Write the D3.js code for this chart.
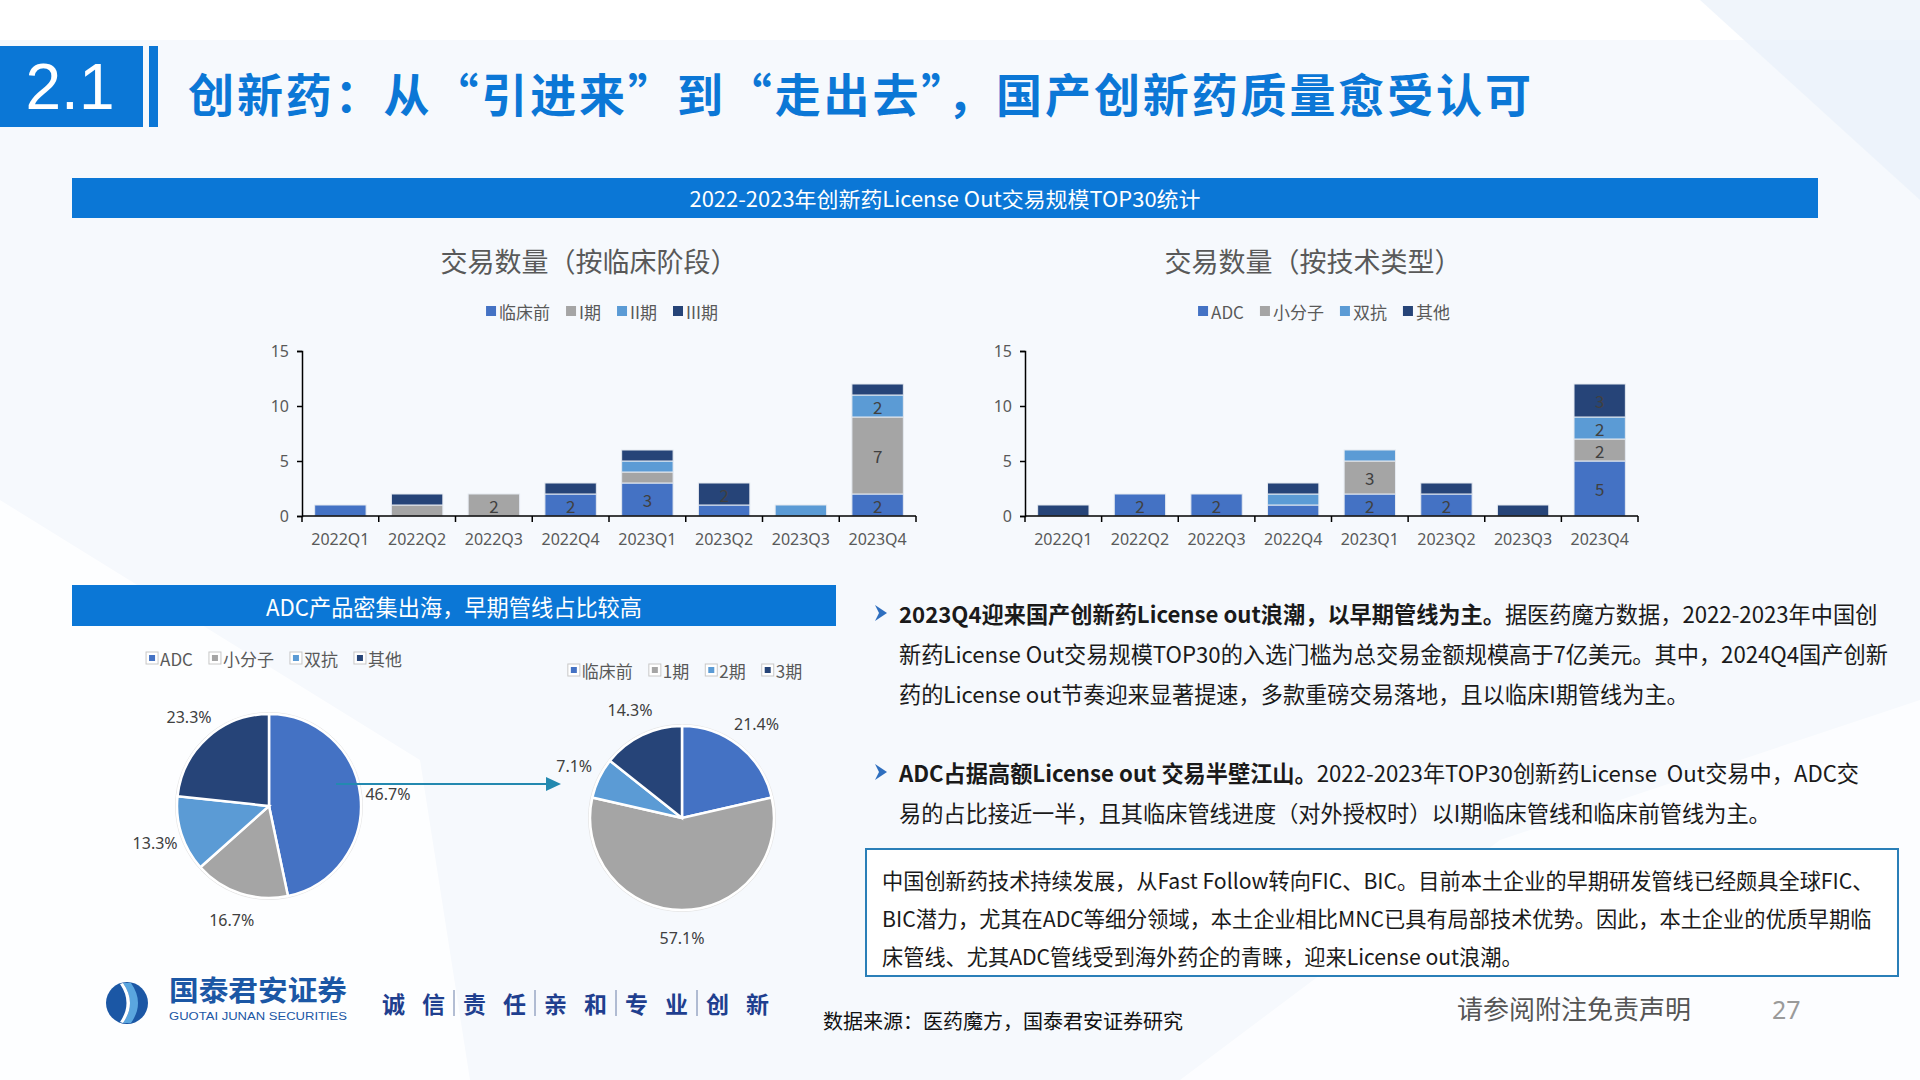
<!DOCTYPE html>
<html>
<head>
<meta charset="utf-8">
<script src="https://cdn.jsdelivr.net/npm/d3@7/dist/d3.min.js"></script>
<style>
    html, body { margin: 0; padding: 0; background: #fff; }
    svg { display: block; font-family: "Noto Sans CJK SC", "Noto Sans", sans-serif; }
</style>
</head>
<body>
<svg id="page" width="1920" height="1080"></svg>
<script>
"use strict";

// ---- data ----
var quarters = ["2022Q1", "2022Q2", "2022Q3", "2022Q4",
    "2023Q1", "2023Q2", "2023Q3", "2023Q4"];

var stageNames = ["临床前", "I期", "II期", "III期"];
var stagePreclinical = [1, 0, 0, 2, 3, 1, 0, 2];
var stagePhase1 = [0, 1, 2, 0, 1, 0, 0, 7];
var stagePhase2 = [0, 0, 0, 0, 1, 0, 1, 2];
var stagePhase3 = [0, 1, 0, 1, 1, 2, 0, 1];

var techNames = ["ADC", "小分子", "双抗", "其他"];
var techADC = [0, 2, 2, 1, 2, 2, 0, 5];
var techSmall = [0, 0, 0, 0, 3, 0, 0, 2];
var techBispecific = [0, 0, 0, 1, 1, 0, 0, 2];
var techOther = [1, 0, 0, 1, 0, 1, 1, 3];

var yTicks = [0, 5, 10, 15];

var pieTechNames = ["ADC", "小分子", "双抗", "其他"];
var pieTechShare = [46.7, 16.7, 13.3, 23.3];
var pieAdcNames = ["临床前", "1期", "2期", "3期"];
var pieAdcShare = [21.4, 57.1, 7.1, 14.3];

var seriesColors = ["#4472c4", "#a5a5a5", "#5b9bd5", "#264478"];
var brandBlue = "#0b77d6";

var svg = d3.select("#page");

// ---- background ----
svg.append("rect").attr("width", 1920).attr("height", 1080)
    .attr("fill", "#f6f9fd");
svg.append("path")
    .attr("d", "M0,0 L1920,0 L1920,40 L0,40 Z")
    .attr("fill", "#ffffff");
svg.append("path")
    .attr("d", "M0,500 L420,760 L470,1080 L0,1080 Z")
    .attr("fill", "#ffffff").attr("opacity", 0.8);
svg.append("path")
    .attr("d", "M1180,1080 L1500,840 L1920,700 L1920,1080 Z")
    .attr("fill", "#ffffff").attr("opacity", 0.7);
svg.append("path")
    .attr("d", "M1700,0 L1920,0 L1920,200 Z")
    .attr("fill", "#eaf1fa").attr("opacity", 0.7);

// ---- header ----
svg.append("rect").attr("x", 0).attr("y", 46)
    .attr("width", 143).attr("height", 81).attr("fill", brandBlue);
svg.append("rect").attr("x", 149).attr("y", 46)
    .attr("width", 9).attr("height", 81).attr("fill", brandBlue);
svg.append("text").attr("x", 70).attr("y", 87)
    .attr("text-anchor", "middle").attr("dominant-baseline", "central")
    .attr("font-family", "Liberation Sans, Arial, sans-serif")
    .attr("font-size", 64).attr("fill", "#fff").text("2.1");
svg.append("text").attr("x", 188).attr("y", 92)
    .attr("dominant-baseline", "central")
    .attr("font-size", 46).attr("font-weight", 700).attr("fill", brandBlue)
    .attr("textLength", 1343).attr("lengthAdjust", "spacing")
    .text("创新药：从“引进来”到“走出去”，国产创新药质量愈受认可");

// ---- section banners ----
function banner(x, y, w, h, label, size, len) {
    svg.append("rect").attr("x", x).attr("y", y)
        .attr("width", w).attr("height", h).attr("fill", brandBlue);
    svg.append("text").attr("x", x + w / 2).attr("y", y + h / 2)
        .attr("text-anchor", "middle").attr("dominant-baseline", "central")
        .attr("font-size", size).attr("fill", "#fff")
        .attr("textLength", len).attr("lengthAdjust", "spacingAndGlyphs")
        .text(label);
}
banner(72, 178, 1746, 40, "2022-2023年创新药License Out交易规模TOP30统计",
        21, 511);
banner(72, 585, 764, 41, "ADC产品密集出海，早期管线占比较高", 22.5, 376);

// ---- legends ----
function legend(names, cx, cy, boxed) {
    var g = svg.append("g");
    var x = 0;
    names.forEach(function (name, i) {
        if (boxed) {
            g.append("rect").attr("x", x).attr("y", cy - 6)
                .attr("width", 12).attr("height", 12)
                .attr("fill", "#fff").attr("stroke", "#c8c8c8");
            g.append("rect").attr("x", x + 3).attr("y", cy - 3)
                .attr("width", 6).attr("height", 6)
                .attr("fill", seriesColors[i]);
        } else {
            g.append("rect").attr("x", x).attr("y", cy - 5)
                .attr("width", 10).attr("height", 10)
                .attr("fill", seriesColors[i]);
        }
        var t = g.append("text").attr("x", x + (boxed ? 14 : 13))
            .attr("y", cy).attr("dominant-baseline", "central")
            .attr("font-size", 17).attr("fill", "#595959").text(name);
        x += (boxed ? 14 : 13) + t.node().getComputedTextLength() + 16;
    });
    var w = x - 16;
    g.attr("transform", "translate(" + (cx - w / 2) + ",0)");
}

// ---- stacked bars ----
function stackedChart(spec) {
    var rows = quarters.map(function (q, i) {
        var row = {quarter: q};
        spec.series.forEach(function (s, k) {
            row[k] = s[i];
        });
        return row;
    });
    var keys = d3.range(spec.series.length);
    var stacked = d3.stack().keys(keys)(rows);

    var x = d3.scaleBand().domain(quarters)
        .range([spec.left, spec.right])
        .paddingInner(0.33).paddingOuter(0.165);
    var y = d3.scaleLinear().domain([0, 15])
        .range([spec.bottom, spec.top]);

    svg.append("text").attr("x", spec.titleX).attr("y", 260)
        .attr("text-anchor", "middle").attr("dominant-baseline", "central")
        .attr("font-size", 27).attr("fill", "#595959").text(spec.title);
    legend(spec.names, spec.legendX, 311, false);

    var g = svg.append("g");
    stacked.forEach(function (layer, k) {
        g.selectAll(null).data(layer).enter().append("rect")
            .attr("x", function (d) { return x(d.data.quarter); })
            .attr("y", function (d) { return y(d[1]); })
            .attr("width", x.bandwidth())
            .attr("height", function (d) { return y(d[0]) - y(d[1]); })
            .attr("fill", seriesColors[k])
            .attr("stroke", "#e4e9f0").attr("stroke-width", 1);
        g.selectAll(null)
            .data(layer.filter(function (d) { return d[1] - d[0] >= 2; }))
            .enter().append("text")
            .attr("x", function (d) {
                return x(d.data.quarter) + x.bandwidth() / 2;
            })
            .attr("y", function (d) { return y((d[0] + d[1]) / 2); })
            .attr("text-anchor", "middle").attr("dominant-baseline", "central")
            .attr("font-size", 17).attr("fill", "#404040")
            .text(function (d) { return d[1] - d[0]; });
    });

    var yAxis = svg.append("g")
        .attr("transform", "translate(" + spec.left + ",0)")
        .call(d3.axisLeft(y).tickValues(yTicks).tickSize(5).tickPadding(8));
    var xAxis = svg.append("g")
        .attr("transform", "translate(0," + spec.bottom + ")")
        .call(d3.axisBottom(x).tickSize(0).tickPadding(18));
    xAxis.select(".domain").remove();
    svg.append("g").selectAll("line")
        .data(d3.range(quarters.length + 1)).enter().append("line")
        .attr("x1", function (i) { return spec.left + i * x.step(); })
        .attr("x2", function (i) { return spec.left + i * x.step(); })
        .attr("y1", spec.bottom).attr("y2", spec.bottom + 6)
        .attr("stroke", "#000").attr("stroke-width", 1.5);
    svg.append("line")
        .attr("x1", spec.left).attr("x2", spec.right)
        .attr("y1", spec.bottom).attr("y2", spec.bottom)
        .attr("stroke", "#000").attr("stroke-width", 1.5);
    [yAxis, xAxis].forEach(function (a) {
        a.selectAll("text").attr("font-size", 16).attr("fill", "#595959")
            .attr("font-family", "Noto Sans, sans-serif");
        a.selectAll("line").attr("stroke", "#000").attr("stroke-width", 1.5);
        a.select(".domain").attr("stroke", "#000").attr("stroke-width", 1.5);
    });
}

stackedChart({
    title: "交易数量（按临床阶段）", titleX: 589, legendX: 602,
    names: stageNames,
    series: [stagePreclinical, stagePhase1, stagePhase2, stagePhase3],
    left: 302, right: 916, top: 351, bottom: 516
});
stackedChart({
    title: "交易数量（按技术类型）", titleX: 1313, legendX: 1324,
    names: techNames,
    series: [techADC, techSmall, techBispecific, techOther],
    left: 1025, right: 1638, top: 351, bottom: 516
});

// ---- pies ----
function pieChart(values, cx, cy) {
    var r = 92;
    var arcs = d3.pie().sort(null).value(function (d) { return d; })(values);
    var arc = d3.arc().innerRadius(0).outerRadius(r);
    var labelArc = d3.arc().innerRadius(r * 1.3).outerRadius(r * 1.3);
    var g = svg.append("g")
        .attr("transform", "translate(" + cx + "," + cy + ")");
    g.append("circle").attr("r", r + 1.5).attr("fill", "#fff")
        .attr("stroke", "#e6e6e6");
    g.selectAll("path").data(arcs).enter().append("path")
        .attr("d", arc)
        .attr("fill", function (d, i) { return seriesColors[i]; })
        .attr("stroke", "#fff").attr("stroke-width", 2.5);
    g.selectAll("text").data(arcs).enter().append("text")
        .attr("transform", function (d) {
            return "translate(" + labelArc.centroid(d) + ")";
        })
        .attr("text-anchor", "middle").attr("dominant-baseline", "central")
        .attr("font-size", 16).attr("fill", "#404040")
        .attr("font-family", "Noto Sans, sans-serif")
        .text(function (d) { return d.data.toFixed(1) + "%"; });
}

legend(pieTechNames, 274, 658, true);
legend(pieAdcNames, 685, 670, true);
pieChart(pieTechShare, 269, 806);
pieChart(pieAdcShare, 682, 818);

// arrow from the ADC slice to the ADC-stage pie
svg.append("line").attr("x1", 336).attr("x2", 548)
    .attr("y1", 784).attr("y2", 784)
    .attr("stroke", "#2389b0").attr("stroke-width", 1.8);
svg.append("path").attr("d", "M546,777 L561,784 L546,791 Z")
    .attr("fill", "#2389b0");

// ---- commentary ----
var bulletOne = [
    [["2023Q4迎来国产创新药License out浪潮，以早期管线为主。", true],
        ["据医药魔方数据，2022-2023年中国创", false]],
    [["新药License Out交易规模TOP30的入选门槛为总交易金额规模高于7亿美元。其中，2024Q4国产创新", false]],
    [["药的License out节奏迎来显著提速，多款重磅交易落地，且以临床I期管线为主。", false]]
];
var bulletTwo = [
    [["ADC占据高额License out 交易半壁江山。", true],
        ["2022-2023年TOP30创新药License  Out交易中，ADC交", false]],
    [["易的占比接近一半，且其临床管线进度（对外授权时）以I期临床管线和临床前管线为主。", false]]
];

function paragraph(lines, x, y0, lineH) {
    svg.append("path")
        .attr("d", "M" + (x - 24) + "," + (y0 - 8) + " L" + (x - 12) + ","
                + y0 + " L" + (x - 24) + "," + (y0 + 8) + " L" + (x - 20)
                + "," + y0 + " Z")
        .attr("fill", "#2f6fbf");
    lines.forEach(function (parts, i) {
        var t = svg.append("text").attr("x", x).attr("y", y0 + i * lineH)
            .attr("dominant-baseline", "central")
            .attr("font-size", 22.2).attr("fill", "#1a1a1a")
            .attr("xml:space", "preserve");
        parts.forEach(function (p) {
            t.append("tspan").attr("font-weight", p[1] ? 700 : 400)
                .text(p[0]);
        });
    });
}
paragraph(bulletOne, 899, 613, 40);
paragraph(bulletTwo, 899, 772, 40);

// conclusion box
var boxLines = [
    "中国创新药技术持续发展，从Fast Follow转向FIC、BIC。目前本土企业的早期研发管线已经颇具全球FIC、",
    "BIC潜力，尤其在ADC等细分领域，本土企业相比MNC已具有局部技术优势。因此，本土企业的优质早期临",
    "床管线、尤其ADC管线受到海外药企的青睐，迎来License out浪潮。"
];
svg.append("rect").attr("x", 866).attr("y", 849)
    .attr("width", 1032).attr("height", 127)
    .attr("fill", "#fff").attr("stroke", "#2a7fb8").attr("stroke-width", 2);
boxLines.forEach(function (line, i) {
    svg.append("text").attr("x", 882).attr("y", 879 + i * 38)
        .attr("dominant-baseline", "central")
        .attr("font-size", 21.2).attr("fill", "#1a1a1a").text(line);
});

// ---- footer ----
var logo = svg.append("g").attr("transform", "translate(127,1003)");
logo.append("circle").attr("r", 21).attr("fill", "#1b57a5");
logo.append("path").attr("d", "M-4,-20 Q10,0 -4,20 L4,20 Q18,0 4,-20 Z")
    .attr("fill", "#5aa6df");
logo.append("path").attr("d", "M-7,-19 Q6,0 -7,19 L-4,20 Q10,0 -4,-20 Z")
    .attr("fill", "#fff");
svg.append("text").attr("x", 169).attr("y", 1001)
    .attr("font-size", 28).attr("font-weight", 700).attr("fill", "#1b57a5")
    .attr("textLength", 178).attr("lengthAdjust", "spacingAndGlyphs")
    .text("国泰君安证券");
svg.append("text").attr("x", 169).attr("y", 1020)
    .attr("font-size", 10).attr("fill", "#1b57a5")
    .attr("font-family", "Liberation Sans, Arial, sans-serif")
    .attr("textLength", 178).attr("lengthAdjust", "spacingAndGlyphs")
    .text("GUOTAI JUNAN SECURITIES");

var sloganWords = ["诚信", "责任", "亲和", "专业", "创新"];
var slogan = svg.append("g");
sloganWords.forEach(function (w, i) {
    var gx = 382 + i * 81;
    w.split("").forEach(function (ch, j) {
        slogan.append("text").attr("x", gx + j * 40).attr("y", 1003)
            .attr("dominant-baseline", "central")
            .attr("font-size", 23).attr("font-weight", 700)
            .attr("fill", "#1f3f8f").text(ch);
    });
    if (i < sloganWords.length - 1) {
        slogan.append("line").attr("x1", gx + 72).attr("x2", gx + 72)
            .attr("y1", 990).attr("y2", 1016)
            .attr("stroke", "#6b7fa8").attr("stroke-width", 1);
    }
});

svg.append("text").attr("x", 823).attr("y", 1020)
    .attr("dominant-baseline", "central")
    .attr("font-size", 20).attr("fill", "#111")
    .text("数据来源：医药魔方，国泰君安证券研究");
svg.append("text").attr("x", 1457).attr("y", 1007)
    .attr("dominant-baseline", "central")
    .attr("font-size", 26).attr("fill", "#555").text("请参阅附注免责声明");
svg.append("text").attr("x", 1772).attr("y", 1009)
    .attr("dominant-baseline", "central")
    .attr("font-family", "Noto Sans, sans-serif")
    .attr("font-size", 25).attr("fill", "#9a9a9a").text("27");
</script>
</body>
</html>
